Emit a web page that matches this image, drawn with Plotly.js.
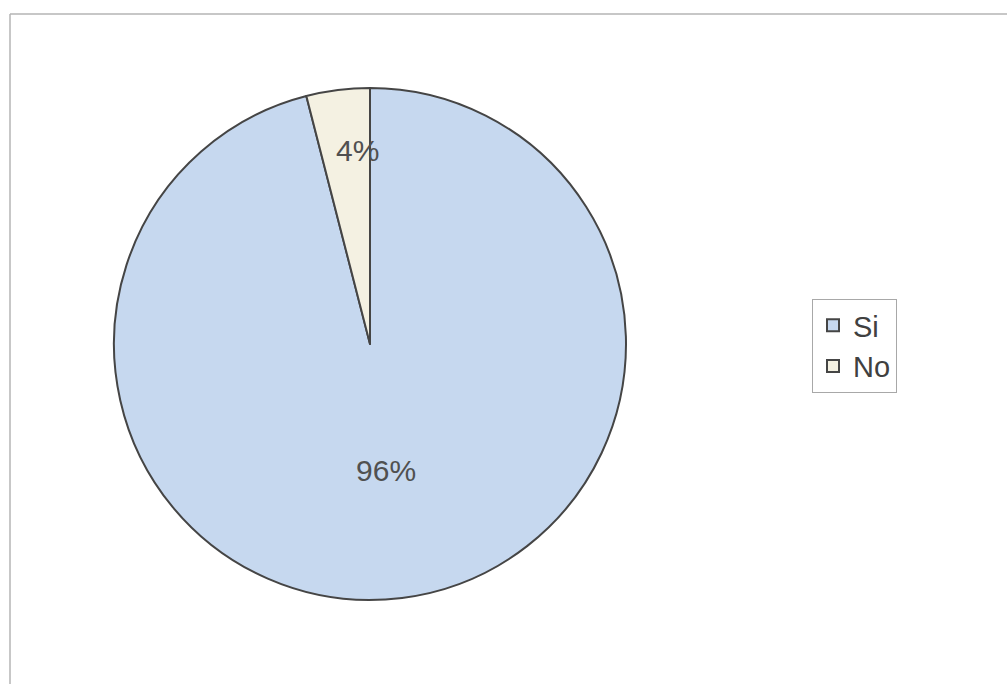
<!DOCTYPE html>
<html>
<head>
<meta charset="utf-8">
<script src="https://cdn.plot.ly/plotly-3.0.1.min.js"></script>
<style>html,body{margin:0;padding:0;background:#fff;}#chart{width:1007px;height:684px;}</style>
</head>
<body>
<div id="chart"></div>
<script>
const categories = ["Si", "No"];
const values = [96, 4];
const sliceColors = ["#c6d8ef", "#f4f1e2"];

const W = 1007, H = 684;
const CX = 370, CY = 344, R = 256;
const total = values.reduce((a, b) => a + b, 0);

// Small slices get their label as an annotation placed on the slice's mid-angle (Excel-like position)
const smallIdx = values.map((v, i) => (v / total < 0.1 ? i : -1)).filter(i => i >= 0);
const templates = values.map((v, i) => (smallIdx.includes(i) ? "" : "%{percent:.0%}"));

const annotations = [];
let cum = 0;
values.forEach((v, i) => {
  const start = cum;
  cum += v;
  if (!smallIdx.includes(i)) return;
  const mid = ((start + v / 2) / total) * 2 * Math.PI; // clockwise from 12 o'clock
  const r = 0.76 * R;
  const px = CX + r * Math.sin(mid);
  const py = CY - r * Math.cos(mid);
  annotations.push({
    xref: "paper", yref: "paper", x: px / W, y: (H - py) / H,
    xanchor: "center", yanchor: "middle", xshift: 12, showarrow: false,
    text: Math.round((v / total) * 100) + "%",
    font: {family: "Liberation Sans, Arial, sans-serif", size: 30, color: "#505050"}
  });
});

const trace = {
  type: "pie",
  labels: categories,
  values: values,
  sort: false,
  direction: "clockwise",
  rotation: 0,
  marker: {colors: sliceColors, line: {color: "#454545", width: 2}},
  texttemplate: templates,
  textposition: "inside",
  insidetextorientation: "horizontal",
  textfont: {family: "Liberation Sans, Arial, sans-serif", size: 30, color: "#505050"},
  hoverinfo: "label+percent",
  domain: {x: [(CX - R) / W, (CX + R) / W], y: [(H - CY - R) / H, (H - CY + R) / H]}
};

const layout = {
  width: W, height: H,
  margin: {l: 0, r: 0, t: 0, b: 0},
  paper_bgcolor: "#ffffff",
  showlegend: true,
  uniformtext: {mode: "show", minsize: 30},
  annotations: annotations,
  legend: {
    x: 812 / W, y: (H - 299) / H, xanchor: "left", yanchor: "top",
    bordercolor: "#a8a8a8", borderwidth: 1, bgcolor: "#ffffff",
    font: {family: "Liberation Sans, Arial, sans-serif", size: 29, color: "#404040"},
    itemwidth: 30
  },
  shapes: [
    {type: "line", xref: "paper", yref: "paper", x0: 10 / W, x1: 1, y0: (H - 14) / H, y1: (H - 14) / H, line: {color: "#b4b4b4", width: 1.5}},
    {type: "line", xref: "paper", yref: "paper", x0: 10 / W, x1: 10 / W, y0: 0, y1: (H - 14) / H, line: {color: "#b4b4b4", width: 1.5}}
  ]
};

Plotly.newPlot("chart", [trace], layout, {displayModeBar: false, staticPlot: true});
</script>
</body>
</html>
